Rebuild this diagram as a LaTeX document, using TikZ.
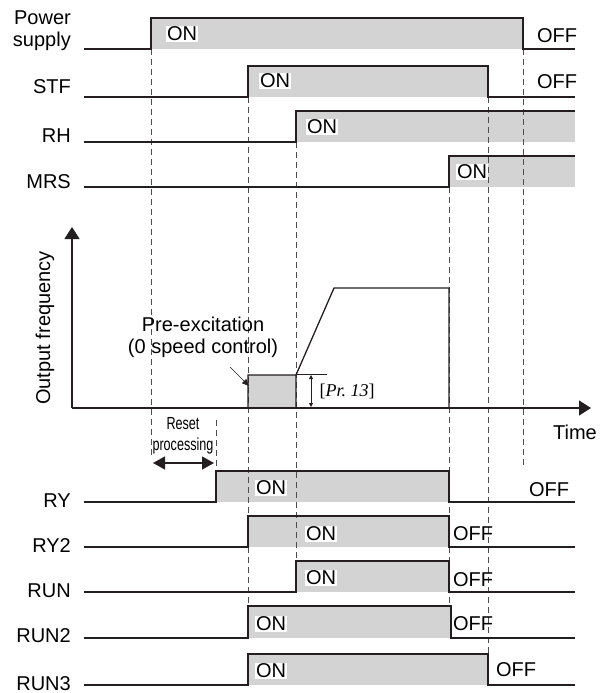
\documentclass[tikz,border=0pt]{standalone}
\usepackage{graphicx}
\usepackage{fontspec}
\setmainfont{Liberation Sans}
\newfontfamily\timesfont{Liberation Serif}
\usetikzlibrary{arrows.meta}
\definecolor{SignalGray}{HTML}{D3D3D3}
\definecolor{EdgeDark}{HTML}{231F20}
\definecolor{GuideGray}{HTML}{4D4D4D}

\begin{document}
\begin{tikzpicture}[x=1pt,y=-1pt,
  font=\fontsize{20}{22}\selectfont,
  signal/.style={EdgeDark,line width=1.3pt},
  guide/.style={GuideGray,line width=0.9pt,dash pattern=on 6pt off 4pt},
  onlabel/.style={fill=white,inner sep=1pt},
  offlabel/.style={inner sep=0pt},
  rowlabel/.style={anchor=base east,inner sep=0pt},
  bigtip/.style={-{Triangle[length=12pt,width=15pt]}}]
  \useasboundingbox (0,0) rectangle (602,693);

  % gray ON areas
  \foreach \ton/\toff/\hi/\lo in {151/523/18/49, 248/488/66/97, 296/575/111/142, 449/575/156/187,
      216/449/471/502, 248/449/516/547, 296/449/561/592, 248/451/606/638, 248/488/654/685}
    \fill[SignalGray] (\ton,\hi) rectangle (\toff,\lo);
  \fill[SignalGray] (248,375) rectangle (296,408);

  % timing guides
  \foreach \t/\from/\to in {151/49/458, 216/420/471, 248/97/606, 296/142/561,
      449/187/606, 488/97/654, 523/49/466}
    \draw[guide] (\t,\from) -- (\t,\to);

  % signals that switch off again
  \foreach \ton/\toff/\hi/\lo in {151/523/18/49, 248/488/66/97, 216/449/471/502, 248/449/516/547,
      296/449/561/592, 248/451/606/638, 248/488/654/685}
    \draw[signal] (84,\lo) -- (\ton,\lo) -- (\ton,\hi) -- (\toff,\hi) -- (\toff,\lo) -- (575,\lo);
  % signals that stay on
  \foreach \ton/\hi/\lo in {296/111/142, 449/156/187}
    \draw[signal] (84,\lo) -- (\ton,\lo) -- (\ton,\hi) -- (575,\hi);

  % row names
  \node[anchor=east,align=right,inner sep=0pt] (ps) at (71,31) {Power\\supply};
  \foreach \n/\y in {STF/93, RH/142, MRS/188, RY/507, RY2/552, RUN/597, RUN2/642, RUN3/690}
    \node[rowlabel] (row-\n) at (71,\y) {\n};

  % ON / OFF marks
  \foreach \n/\x/\y in {ps/182/34, stf/275/81, rh/322/127, mrs/472/172, ry/271/488,
      rytwo/321/534, run/321/578, runtwo/271/624, runthree/271/671}
    \node[onlabel] (on-\n) at (\x,\y) {ON};
  \foreach \n/\x/\y in {ps/557/36, stf/557/82, ry/549/490, rytwo/473/534, run/473/580,
      runtwo/473/624, runthree/516/670}
    \node[offlabel] (off-\n) at (\x,\y) {OFF};

  % output frequency graph
  \coordinate (origin) at (72,408);
  \coordinate (ytip) at (72,227);
  \coordinate (xtip) at (591,408);
  \draw[signal,bigtip] (origin) -- (ytip);
  \draw[signal,bigtip] (origin) -- (xtip);
  \node[rotate=90] (freq) at (45,328) {Output frequency};
  \node (time) at (575,432) {Time};
  \draw[signal] (248,408) -- (248,375) -- (296,375) -- (296,408)
    (296,375) -- (334,288) -- (449,288) -- (449,408);

  \node[align=center] (preexc) at (203,337) {Pre-excitation\\(0 speed control)};
  \coordinate (pretail) at (230,367);
  \coordinate (prebox) at (249,386);
  \draw[EdgeDark,line width=0.7pt,-{Triangle[length=7pt,width=6pt]}] (pretail) -- (prebox);

  % Pr. 13 height
  \coordinate (prtop) at (311,375);
  \coordinate (prbot) at (311,407);
  \draw[EdgeDark,line width=0.6pt] (296,374) -- (327,374);
  \draw[EdgeDark,line width=0.8pt,{Triangle[length=4pt,width=4pt]}-{Triangle[length=4pt,width=4pt]}] (prtop) -- (prbot);
  \node[font=\fontsize{18}{20}\selectfont\timesfont] (prthirteen) at (347,391) {[\textit{Pr.\ 13}]};

  % reset processing
  \node[font=\fontsize{17.5}{21.5}\selectfont,align=center,inner sep=0pt] (reset) at (183,436)
    {\scalebox{0.72}[1]{Reset}\\\scalebox{0.72}[1]{processing}};
  \coordinate (resetstart) at (153,463);
  \coordinate (resetend) at (214,463);
  \draw[signal,{Triangle[length=12pt,width=13pt]}-{Triangle[length=12pt,width=13pt]}] (resetstart) -- (resetend);
\end{tikzpicture}
\end{document}
